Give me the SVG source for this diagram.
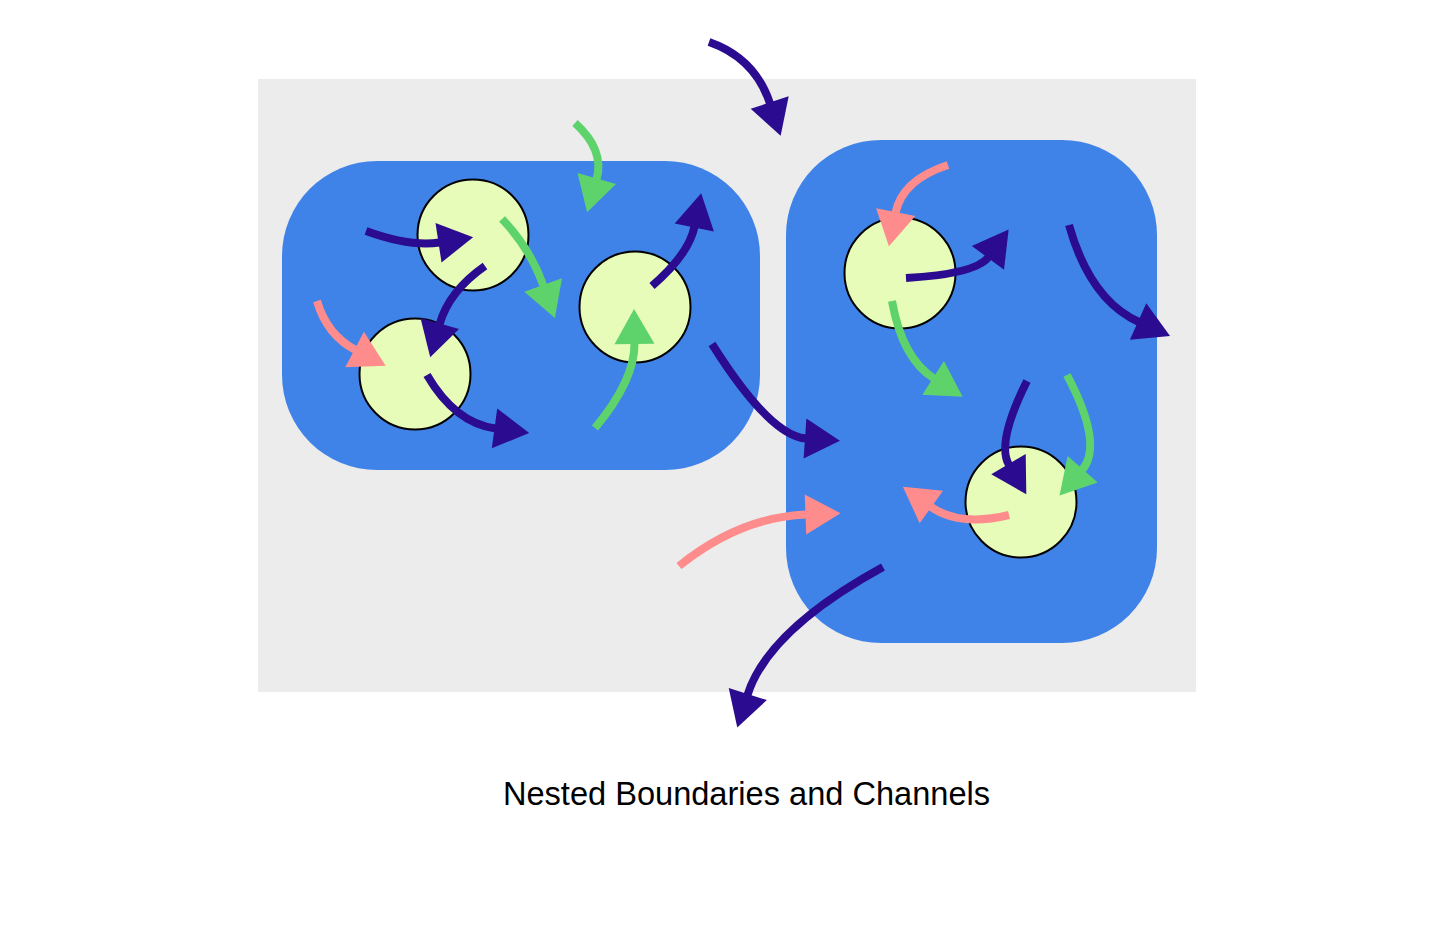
<svg xmlns="http://www.w3.org/2000/svg" width="1456" height="935" viewBox="0 0 1456 935">
<defs>
<style>
.bg{fill:#ececec}
.zone{fill:#4083e8}
.node{fill:#e6fcb8;stroke:#000;stroke-width:2}
.c{fill:none;stroke-width:8}
.d{stroke:#2b0b8f}
.g{stroke:#5ed36c}
.p{stroke:#ff8c8c}
.title{font-family:"Liberation Sans",Arial,sans-serif;font-size:32.6px;fill:#000}
</style>
<marker id="ad" markerUnits="userSpaceOnUse" markerWidth="36" markerHeight="40" refX="1" refY="20" orient="auto" overflow="visible"><path d="M0,0 L35,20 L0,40 z" fill="#2b0b8f"/></marker>
<marker id="ag" markerUnits="userSpaceOnUse" markerWidth="36" markerHeight="40" refX="1" refY="20" orient="auto" overflow="visible"><path d="M0,0 L35,20 L0,40 z" fill="#5ed36c"/></marker>
<marker id="ap" markerUnits="userSpaceOnUse" markerWidth="36" markerHeight="40" refX="1" refY="20" orient="auto" overflow="visible"><path d="M0,0 L35,20 L0,40 z" fill="#ff8c8c"/></marker>
</defs>
<rect class="bg" x="258" y="79" width="938" height="613"/>
<g id="zone-left"><rect class="zone" x="282" y="161" width="478" height="309" rx="95" ry="95"/></g>
<g id="zone-right"><rect class="zone" x="786" y="140" width="371" height="503" rx="95" ry="95"/></g>
<g id="node-1"><circle class="node" cx="473" cy="235" r="55.5"/></g>
<g id="node-2"><circle class="node" cx="415" cy="374" r="55.5"/></g>
<g id="node-3"><circle class="node" cx="635" cy="307" r="55.5"/></g>
<g id="node-4"><circle class="node" cx="900" cy="273" r="55.5"/></g>
<g id="node-5"><circle class="node" cx="1021" cy="502" r="55.5"/></g>
<g id="connectors">
<path class="c d" marker-end="url(#ad)" d="M709,42 Q755,58 770,103.5"/>
<path class="c g" marker-end="url(#ag)" d="M575,123 Q605,150 596.5,179.5"/>
<path class="c d" marker-end="url(#ad)" d="M366,231 Q410,247 439.5,242.5"/>
<path class="c g" marker-end="url(#ag)" d="M502,219 Q530,248 543.5,286"/>
<path class="c d" marker-end="url(#ad)" d="M485,266 Q449,291 439.5,324.5"/>
<path class="c p" marker-end="url(#ap)" d="M317,301 Q327,335 355.5,350"/>
<path class="c d" marker-end="url(#ad)" d="M427,375 Q455,423 495.5,428.5"/>
<path class="c g" marker-end="url(#ag)" d="M595,428 Q635,380 634.5,343"/>
<path class="c d" marker-end="url(#ad)" d="M652,286 Q689,254 694.5,226.5"/>
<path class="c d" marker-end="url(#ad)" d="M712,344 Q770,436 806,438.5"/>
<path class="c p" marker-end="url(#ap)" d="M679,566 Q740,517 806.5,514.5"/>
<path class="c d" marker-end="url(#ad)" d="M883,567 Q768,630 747.5,695"/>
<path class="c p" marker-end="url(#ap)" d="M948,165 Q902,180 895.5,213"/>
<path class="c d" marker-end="url(#ad)" d="M906,278 Q976,274 988.5,257"/>
<path class="c g" marker-end="url(#ag)" d="M892,301 Q902,358 934,378.5"/>
<path class="c d" marker-end="url(#ad)" d="M1069,225 Q1090,300 1139,322"/>
<path class="c d" marker-end="url(#ad)" d="M1027,381 Q996,443 1009,465"/>
<path class="c g" marker-end="url(#ag)" d="M1067,375 Q1104,445 1082,470"/>
<path class="c p" marker-end="url(#ap)" d="M1009,515 Q959,527 930.5,506.5"/>
</g>
<text class="title" x="746.5" y="805" text-anchor="middle">Nested Boundaries and Channels</text>
</svg>
